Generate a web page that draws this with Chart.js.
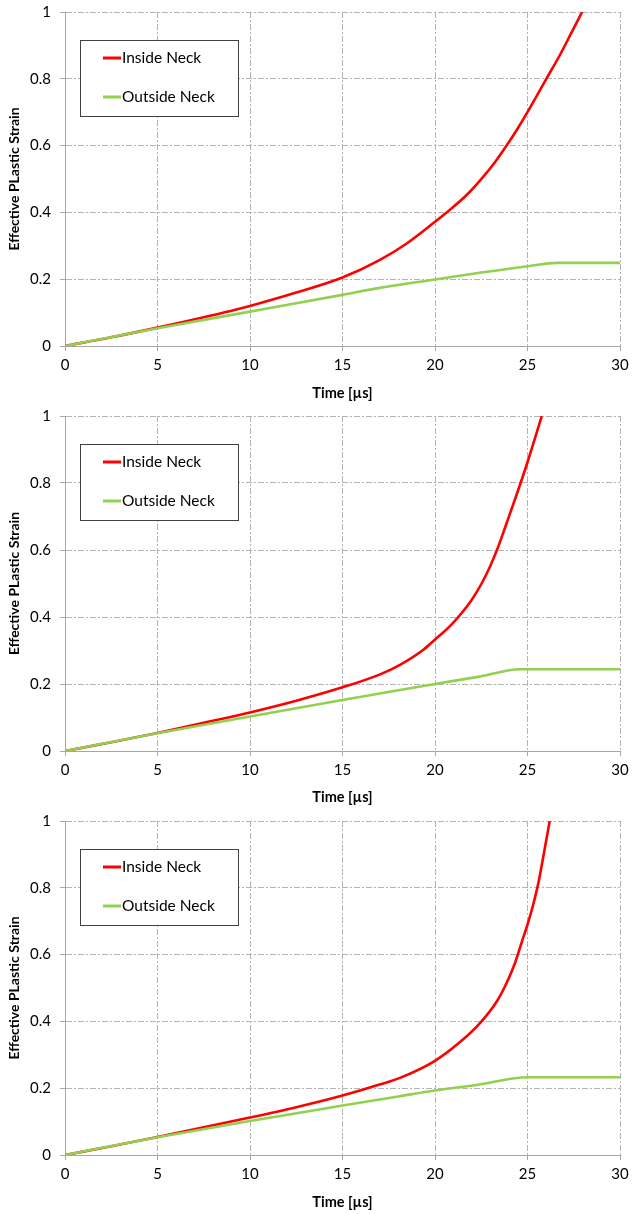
<!DOCTYPE html>
<html>
<head>
<meta charset="utf-8">
<script src="https://cdn.jsdelivr.net/npm/chart.js@4/dist/chart.umd.min.js"></script>
<style>
  body { margin: 0; background: #fff; }
  canvas { display: block; }
</style>
</head>
<body>
<canvas id="c1" width="633" height="405"></canvas>
<canvas id="c2" width="633" height="404"></canvas>
<canvas id="c3" width="633" height="405"></canvas>
<script>
// values: [time in µs, strain]
const inside1 = [[0,0],[2.5,0.026],[5,0.055],[7.5,0.086],[10,0.12],[12.5,0.16],[15,0.205],[17,0.257],[18.47,0.307],[20,0.372],[20.81,0.408],[21.71,0.452],[22.43,0.495],[23.24,0.55],[23.87,0.6],[24.41,0.646],[25,0.7],[25.5,0.749],[26.04,0.802],[26.76,0.872],[27.3,0.93],[27.95,1.0]];
const outside1 = [[0,0],[5,0.053],[10,0.103],[15,0.153],[17,0.174],[20,0.199],[22.5,0.22],[25,0.239],[26.6,0.249],[30,0.249]];

const inside2 = [[0,0],[2.5,0.026],[5,0.054],[7.5,0.084],[10,0.115],[12.5,0.15],[15,0.19],[17,0.228],[18.11,0.257],[19.37,0.302],[20,0.333],[20.81,0.373],[21.35,0.406],[21.98,0.451],[22.52,0.5],[22.97,0.55],[23.42,0.61],[23.87,0.68],[24.41,0.765],[25,0.862],[25.41,0.935],[25.77,1.0]];
const outside2 = [[0,0],[5,0.053],[10,0.103],[15,0.152],[18.1,0.182],[20,0.2],[22.4,0.222],[24.6,0.244],[30,0.244]];

const inside3 = [[0,0],[2.5,0.026],[5,0.054],[7.5,0.083],[10,0.112],[12.5,0.143],[15,0.178],[17,0.211],[18.11,0.231],[20,0.282],[21.35,0.338],[22.43,0.395],[23.33,0.459],[23.87,0.515],[24.32,0.574],[24.68,0.636],[25,0.69],[25.32,0.752],[25.59,0.815],[25.86,0.895],[26.2,1.0]];
const outside3 = [[0,0],[5,0.053],[10,0.102],[15,0.148],[18.1,0.176],[20,0.193],[22.4,0.211],[24.2,0.229],[25.05,0.233],[30,0.233]];

const seriesNames = ['Inside Neck', 'Outside Neck'];
const seriesColors = ['#ff0000', '#92d050'];
const xTicks = [0, 5, 10, 15, 20, 25, 30];
const yTicks = [0, 0.2, 0.4, 0.6, 0.8, 1];

const FONT = 'Lato, "Open Sans", sans-serif';

// legend box drawn inside the plot, Excel style
const boxLegend = {
  id: 'boxLegend',
  afterDraw(chart) {
    const ctx = chart.ctx;
    const left = 80, top = chart.chartArea.top + 28, w = 158, h = 76;
    ctx.save();
    ctx.fillStyle = '#fff';
    ctx.fillRect(left, top, w, h);
    ctx.strokeStyle = '#404040';
    ctx.lineWidth = 1;
    ctx.strokeRect(left + 0.5, top + 0.5, w, h);
    ctx.font = '15.5px ' + FONT;
    ctx.textBaseline = 'middle';
    chart.data.datasets.forEach((ds, i) => {
      const y = top + 18 + i * 39;
      ctx.strokeStyle = ds.borderColor;
      ctx.lineWidth = 3;
      ctx.beginPath();
      ctx.moveTo(left + 23, y);
      ctx.lineTo(left + 41, y);
      ctx.stroke();
      ctx.fillStyle = '#000';
      ctx.fillText(ds.label, left + 42, y);
    });
    ctx.restore();
  }
};

function makeChart(id, inside, outside, topPad) {
  const canvas = document.getElementById(id);
  const H = canvas.height;
  const series = [inside, outside];
  return new Chart(canvas, {
    type: 'line',
    data: {
      datasets: series.map((s, i) => ({
        label: seriesNames[i],
        data: s.map(p => ({ x: p[0], y: p[1] })),
        borderColor: seriesColors[i],
        backgroundColor: seriesColors[i],
        borderWidth: 2.6,
        pointRadius: 0,
        cubicInterpolationMode: 'monotone',
        fill: false,
        order: i === 0 ? 1 : 0   // green drawn over red
      }))
    },
    options: {
      responsive: false,
      animation: false,
      devicePixelRatio: 1,
      layout: { padding: { top: topPad, right: 13, left: 0, bottom: 0 } },
      plugins: { legend: { display: false }, tooltip: { enabled: false } },
      scales: {
        x: {
          type: 'linear',
          min: 0, max: 30,
          afterBuildTicks: s => { s.ticks = xTicks.map(v => ({ value: v })); },
          afterFit: s => { s.height = H - 346; s.paddingLeft = 0; s.paddingRight = 0; },
          ticks: { color: '#000', font: { family: FONT, size: 15 }, padding: 5, maxRotation: 0, callback: v => String(v) },
          grid: { color: '#b4b4b4', lineWidth: 1, tickLength: 5, tickColor: '#a6a6a6' },
          border: { display: true, color: '#a6a6a6', width: 1, dash: [6, 2, 2, 2] },
          title: { display: true, text: 'Time [µs]', color: '#000', font: { family: FONT, size: 14.5, weight: 'bold' }, padding: { top: 4, bottom: 3 } }
        },
        y: {
          min: 0, max: 1,
          afterBuildTicks: s => { s.ticks = yTicks.map(v => ({ value: v })); },
          afterFit: s => { s.width = 65; s.paddingTop = 0; s.paddingBottom = 0; },
          ticks: { color: '#000', font: { family: FONT, size: 15 }, padding: 9, callback: v => String(v) },
          grid: { color: '#b4b4b4', lineWidth: 1, tickLength: 5, tickColor: '#a6a6a6' },
          border: { display: true, color: '#a6a6a6', width: 1, dash: [6, 2, 2, 2] },
          title: { display: true, text: 'Effective PLastic Strain', color: '#000', font: { family: FONT, size: 14, weight: 'bold' }, padding: { top: 6, bottom: 0 } }
        }
      }
    },
    plugins: [boxLegend]
  });
}

makeChart('c1', inside1, outside1, 12);
makeChart('c2', inside2, outside2, 11);
makeChart('c3', inside3, outside3, 12);
</script>
</body>
</html>
